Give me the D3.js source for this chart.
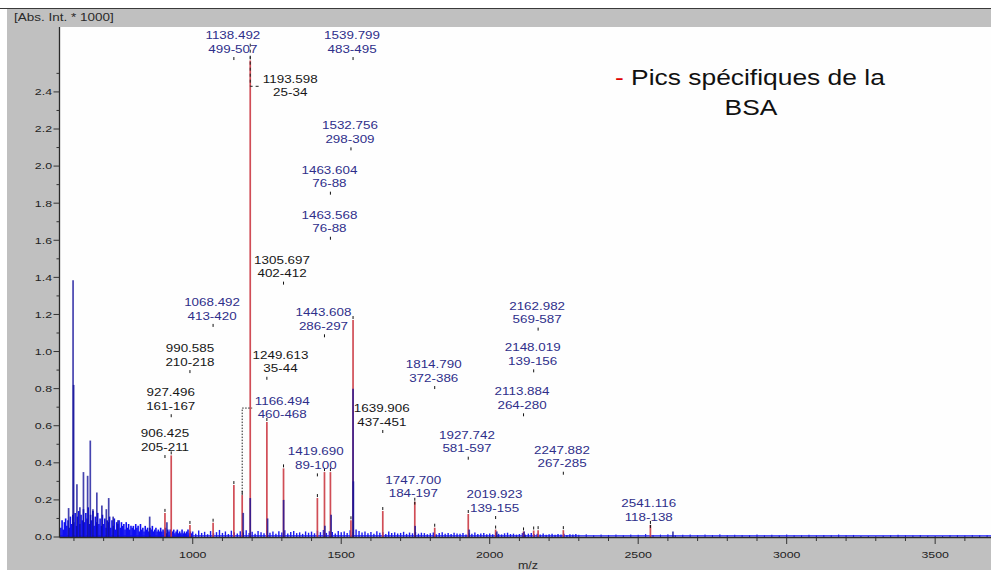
<!DOCTYPE html>
<html><head><meta charset="utf-8">
<script src="https://cdn.jsdelivr.net/npm/d3@7"></script>
<style>
body{margin:0;background:#fff}
svg{display:block}
text{font-family:"Liberation Sans",Arial,sans-serif}
</style>
</head><body>
<svg id="c" width="991" height="571"></svg>
<script>
// ---------- DATA ----------
const xTicks = [1000, 1500, 2000, 2500, 3000, 3500];
const yTicks = [0.0, 0.2, 0.4, 0.6, 0.8, 1.0, 1.2, 1.4, 1.6, 1.8, 2.0, 2.2, 2.4];
const yTitle = "[Abs. Int. * 1000]";
const xTitle = "m/z";
const legendDash = "-";
const legendLine1 = " Pics spécifiques de la";
const legendLine2 = "BSA";

// BSA-specific peaks (red)
const redMz  = [906.425, 927.496, 990.585, 1068.492, 1138.492, 1166.494, 1193.598, 1249.613, 1305.697, 1419.690, 1443.608, 1463.604, 1532.756, 1539.799, 1639.906, 1747.700, 1814.790, 1927.742, 2019.923, 2113.884, 2148.019, 2162.982, 2247.882, 2541.116];
const redInt = [0.13, 0.44, 0.065, 0.077, 0.28, 0.226, 2.57, 0.62, 0.37, 0.21, 0.35, 0.35, 0.09, 1.17, 0.14, 0.19, 0.05, 0.124, 0.04, 0.03, 0.035, 0.037, 0.037, 0.065];

// other (blue) peaks
const blueMz  = [582, 597, 599, 610, 620, 632, 646, 655, 664, 677, 694, 709, 717, 732, 748, 855, 913, 1170, 1193.6, 1252, 1306, 1445, 1466, 1539.8, 1541, 1749, 1931, 2024, 2116, 2617];
const blueInt = [0.156, 1.385, 0.82, 0.285, 0.16, 0.35, 0.33, 0.52, 0.15, 0.24, 0.17, 0.15, 0.21, 0.11, 0.09, 0.11, 0.08, 0.13, 0.21, 0.1, 0.2, 0.06, 0.12, 0.8, 0.3, 0.06, 0.04, 0.03, 0.03, 0.03];

// baseline noise, 556..996 every 4
const noiseLowStart = 556, noiseLowStep = 4;
const noiseLow = [0.05,0.09,0.04,0.08,0.10,0.06,0.09,0.05,0.11,0.07,0.12,
 0.08,0.13,0.06,0.11,0.14,0.07,0.12,0.09,0.15,0.08,0.13,0.10,0.16,0.07,0.12,0.09,0.14,0.06,0.11,0.08,0.13,0.07,0.10,0.06,0.12,
 0.07,0.10,0.05,0.09,0.08,0.11,0.05,0.09,0.06,0.10,0.04,0.08,0.07,0.09,0.05,0.08,0.06,0.07,0.04,0.08,0.05,0.07,0.04,0.06,0.05,
 0.06,0.04,0.07,0.05,0.06,0.03,0.07,0.04,0.05,0.03,0.06,0.04,0.05,0.03,0.05,0.04,0.06,0.03,0.04,0.05,0.03,0.04,0.03,0.05,0.03,
 0.04,0.03,0.05,0.02,0.04,0.03,0.04,0.02,0.03,0.04,0.02,0.03,0.04,0.02,0.03,0.02,0.04,0.02,0.03,0.02,0.03,0.04,0.02,0.03,0.02];
// 1000..2290 every 10
const noiseMidStart = 1000, noiseMidStep = 10;
const noiseMid = [
 .030,.018,.035,.022,.028,.015,.032,.020,.026,.038,
 .022,.030,.016,.034,.025,.019,.031,.024,.036,.021,
 .028,.017,.033,.026,.020,.035,.023,.029,.018,.031,
 .024,.036,.019,.027,.032,.021,.025,.017,.030,.023,
 .029,.020,.034,.026,.038,.022,.031,.027,.019,.033,
 .025,.030,.021,.036,.028,.040,.032,.024,.029,.020,
 .027,.018,.031,.023,.026,.016,.029,.021,.025,.019,
 .022,.028,.017,.024,.020,.027,.018,.023,.021,.015,
 .020,.024,.015,.022,.026,.018,.021,.016,.023,.019,
 .017,.022,.014,.020,.018,.024,.016,.019,.021,.015,
 .019,.015,.022,.017,.014,.020,.023,.016,.018,.013,
 .016,.021,.013,.018,.022,.015,.017,.014,.019,.012,
 .015,.018,.012,.016,.014,.017,.011,.015,.013,.016];
// 2300..3700 every 25
const noiseHighStart = 2300, noiseHighStep = 25;
const noiseHigh = [.012,.015,.010,.014,.011,.013,
 .010,.014,.012,.016,.011,.013,.015,.010,
 .012,.014,.009,.013,.011,.015,.010,.012,
 .011,.009,.013,.010,.012,.008,.014,.010,
 .009,.012,.008,.011,.010,.013,.009,.011,
 .006,.005,.004,.007,.010,.012,.009,.008,
 .011,.007,.005,.006,.009,.010,.008,.011,
 .009,.010,.008];

// peak annotations
const labelMz    = ["1138.492","1539.799","1193.598","1532.756","1463.604","1463.568","1305.697","1068.492","1443.608","2162.982","990.585","1249.613","2148.019","1814.790","927.496","2113.884","1166.494","1639.906","906.425","1927.742","1419.690","2247.882","1747.700","2019.923","2541.116"];
const labelRange = ["499-507","483-495","25-34","298-309","76-88","76-88","402-412","413-420","286-297","569-587","210-218","35-44","139-156","372-386","161-167","264-280","460-468","437-451","205-211","581-597","89-100","267-285","184-197","139-155","118-138"];
const labelDark  = [0,0,1,0,0,0,1,0,0,0,1,1,0,0,1,0,0,1,1,0,0,0,0,0,0];
const labelLevel = [2.588,2.588,2.352,2.101,1.862,1.619,1.377,1.149,1.093,1.129,0.900,0.864,0.904,0.814,0.662,0.667,0.617,0.577,0.442,0.433,0.343,0.352,0.191,0.113,0.065];
const labelShift = [-1,-1,40,-1,-1,-1,-1.5,-1,-1,-1,0,13.6,-1,-1,-0.5,-1.5,40,-1,0,-1.3,-1.6,-1.3,-1.5,-1.1,-1.7];
const labelTick  = [1,1,0,1,1,1,1,1,1,1,1,1,1,1,1,1,0,1,1,1,1,1,1,1,1];
// dashed connectors (label index, start intensity, dash)
const connIdx  = [2, 16];
const connFrom = [2.66, 0.226];
const connDash = ["3,3", "1.5,1.5"];

// ---------- DRAW ----------
const svg = d3.select("#c");
const X0 = 60, X1 = 991, Y0 = 537, Y1 = 27;
const x = d3.scaleLinear().domain([553, 3688]).range([X0, X1]);
const y = d3.scaleLinear().domain([0, 2.75]).range([Y0, Y1]);

svg.append("rect").attr("width",991).attr("height",571).attr("fill","#fff");
svg.append("rect").attr("x",7).attr("y",9).attr("width",984).attr("height",561).attr("fill","#c0c0c0");
svg.append("line").attr("x1",0).attr("x2",991).attr("y1",8.5).attr("y2",8.5).attr("stroke","#3a3a3a").attr("stroke-width",1.2);
svg.append("rect").attr("x",X0).attr("y",Y1).attr("width",X1-X0).attr("height",Y0-Y1).attr("fill","#fefefe");

svg.append("defs").append("clipPath").attr("id","clip").append("rect")
  .attr("x",X0).attr("y",Y1).attr("width",X1-X0).attr("height",Y0-Y1);
const plot = svg.append("g").attr("clip-path","url(#clip)");

function sticks(g, mzArr, vals, color, w, op){
  g.selectAll(null).data(vals).enter().append("line")
    .attr("x1",(d,i)=>x(mzArr(i))).attr("x2",(d,i)=>x(mzArr(i)))
    .attr("y1",y(0)).attr("y2",d=>y(d))
    .attr("stroke",color).attr("stroke-width",w).attr("opacity",op);
}
// baseline
plot.append("line").attr("x1",x(553)).attr("x2",x(3688)).attr("y1",y(0.006)).attr("y2",y(0.006))
  .attr("stroke","#1a1aff").attr("stroke-width",1.2);
sticks(plot, i=>noiseLowStart+i*noiseLowStep, noiseLow, "#1010f0", 1.6, 1);
sticks(plot, i=>noiseMidStart+i*noiseMidStep, noiseMid, "#1a1aee", 1.4, 1);
sticks(plot, i=>noiseHighStart+i*noiseHighStep, noiseHigh, "#2020e0", 1.1, 1);

// red peaks
sticks(plot, i=>redMz[i], redInt, "#cc3a44", 1.7, 0.9);
// blue peaks on top
sticks(plot, i=>blueMz[i], blueInt, "#12109a", 1.7, 0.78);
// apex marks
plot.selectAll(null).data(redInt).enter().append("line")
  .attr("x1",(d,i)=>x(redMz[i])).attr("x2",(d,i)=>x(redMz[i]))
  .attr("y1",d=>y(d)-4).attr("y2",d=>y(d)-1)
  .attr("stroke","#111").attr("stroke-width",1);

// annotations
const SX = 1.34;
labelMz.forEach((m,i)=>{
  const tx = x(+m), ty = y(labelLevel[i]);
  const cx = tx + labelShift[i];
  const col = labelDark[i] ? "#161616" : "#2e2e8a";
  if (labelTick[i]) {
    svg.append("line").attr("x1",tx).attr("x2",tx).attr("y1",ty).attr("y2",ty+3)
      .attr("stroke","#111").attr("stroke-width",1);
  }
  const g = svg.append("g").attr("transform",`translate(${cx},${ty}) scale(${SX},1)`)
    .attr("fill",col).style("font-size","10px").attr("text-anchor","middle");
  g.append("text").attr("y",-17.9).text(m);
  g.append("text").attr("y",-4.4).text(labelRange[i]);
});
connIdx.forEach((li,k)=>{
  const tx = x(+labelMz[li]);
  const ty = y(labelLevel[li]) - 14.5;
  const cx = tx + labelShift[li];
  const p = d3.path();
  p.moveTo(tx, y(connFrom[k])); p.lineTo(tx, ty); p.lineTo(cx - 30, ty);
  svg.append("path").attr("d",p.toString()).attr("fill","none")
    .attr("stroke","#222").attr("stroke-width",1).attr("stroke-dasharray",connDash[k]);
});

// axes
const ax = svg.append("g");
ax.append("line").attr("x1",X0-0.5).attr("x2",X0-0.5).attr("y1",Y1).attr("y2",Y0+0.5).attr("stroke","#2a2a2a").attr("stroke-width",1.3);
ax.append("line").attr("x1",X0-0.5).attr("x2",X1).attr("y1",Y0+0.5).attr("y2",Y0+0.5).attr("stroke","#2a2a2a").attr("stroke-width",1.3);
const yMinor = d3.range(1, 26, 2).map(v=>v/10);
yMinor.forEach(v=>ax.append("line").attr("x1",X0-3.5).attr("x2",X0-0.5).attr("y1",y(v)).attr("y2",y(v)).attr("stroke","#333"));
yTicks.forEach(v=>{
  ax.append("line").attr("x1",X0-6.5).attr("x2",X0-0.5).attr("y1",y(v)).attr("y2",y(v)).attr("stroke","#333");
  ax.append("text").attr("transform",`translate(${X0-8},${y(v)+3.4}) scale(1.3,1)`)
    .attr("text-anchor","end").style("font-size","9.5px").attr("fill","#222").text(v.toFixed(1));
});
const xMinor = d3.range(600, 3700, 100).filter(v=>v%500!==0);
xMinor.forEach(v=>ax.append("line").attr("x1",x(v)).attr("x2",x(v)).attr("y1",Y0+1).attr("y2",Y0+4).attr("stroke","#333"));
xTicks.forEach(v=>{
  ax.append("line").attr("x1",x(v)).attr("x2",x(v)).attr("y1",Y0+1).attr("y2",Y0+7).attr("stroke","#333");
  ax.append("text").attr("transform",`translate(${x(v)},${557.5}) scale(1.3,1)`)
    .attr("text-anchor","middle").style("font-size","9.5px").attr("fill","#222").text(v);
});
svg.append("text").attr("transform","translate(14,20.5) scale(1.35,1)").style("font-size","10px").attr("fill","#2a2a2a").text(yTitle);
svg.append("text").attr("transform","translate(528,568.5) scale(1.25,1)").attr("text-anchor","middle").style("font-size","10px").attr("fill","#2a2a2a").text(xTitle);

// legend
const lg = svg.append("text").attr("transform","translate(615,85) scale(1.2,1)").style("font-size","22px");
lg.append("tspan").attr("fill","#e00000").text(legendDash);
lg.append("tspan").attr("fill","#111").text(legendLine1);
svg.append("text").attr("transform","translate(751,115) scale(1.2,1)").attr("text-anchor","middle").style("font-size","22px").attr("fill","#111").text(legendLine2);
</script>
</body></html>
